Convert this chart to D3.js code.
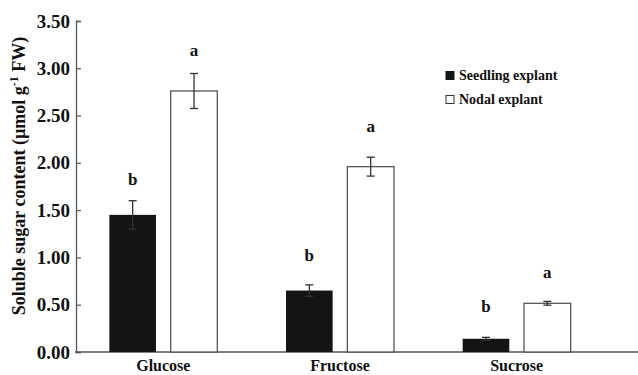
<!DOCTYPE html>
<html>
<head>
<meta charset="utf-8">
<script src="https://cdn.jsdelivr.net/npm/d3@7"></script>
<style>
  body { margin: 0; background: #fff; }
  text { font-family: "Liberation Serif", "Times New Roman", serif; font-weight: bold; fill: #111; }
</style>
</head>
<body>
<div id="chart"></div>
<script>
// sugars and explant types
let categories = ["Glucose", "Fructose", "Sucrose"];
let seriesNames = ["Seedling explant", "Nodal explant"];

// mean content
let seedling = [1.45, 0.65, 0.14];
let nodal = [2.76, 1.96, 0.515];
// standard error
let seedlingErr = [0.15, 0.06, 0.015];
let nodalErr = [0.185, 0.10, 0.02];
// significance letters and the height (data units) they sit at
let seedlingLetters = ["b", "b", "b"];
let nodalLetters = ["a", "a", "a"];
let seedlingLetterAt = [1.77, 0.96, 0.42];
let nodalLetterAt = [3.13, 2.33, 0.78];

let yTicks = [0, 0.5, 1, 1.5, 2, 2.5, 3, 3.5];

let width = 638, height = 375;

let svg = d3.select("#chart").append("svg")
    .attr("width", width)
    .attr("height", height);

// scales
let x0 = d3.scaleBand().domain(categories).range([75, 605]);
let x1 = d3.scaleBand().domain(seriesNames)
    .range([0, x0.bandwidth()])
    .paddingInner(0.24)
    .paddingOuter(0.56);
let y = d3.scaleLinear().domain([0, 3.5]).range([352, 21]);

// y axis
let yAxis = svg.append("g")
    .attr("transform", "translate(76,0)")
    .call(d3.axisLeft(y).tickValues(yTicks).tickFormat(d3.format(".2f")).tickSize(-5).tickPadding(6));
yAxis.select(".domain").attr("stroke", "#555").attr("stroke-width", 1.3);
yAxis.selectAll(".tick line").attr("stroke", "#555").attr("stroke-width", 1.2);
yAxis.selectAll(".tick text")
    .attr("font-family", "Liberation Serif")
    .attr("font-size", 19)
    .attr("font-weight", "bold")
    .attr("fill", "#111");

// x axis line with category names
let xAxis = svg.append("g")
    .attr("transform", "translate(0,352)")
    .call(d3.axisBottom(x0).tickSize(0).tickPadding(8));
xAxis.select(".domain").attr("d", "M75,0H638").attr("stroke", "#555").attr("stroke-width", 1.3);
xAxis.selectAll(".tick text")
    .attr("font-family", "Liberation Serif")
    .attr("font-size", 16)
    .attr("font-weight", "bold")
    .attr("fill", "#111");

// build rows for drawing
let rows = [];
categories.forEach(function(c, i) {
    rows.push({cat: c, s: seriesNames[0], v: seedling[i], e: seedlingErr[i], l: seedlingLetters[i], la: seedlingLetterAt[i]});
    rows.push({cat: c, s: seriesNames[1], v: nodal[i], e: nodalErr[i], l: nodalLetters[i], la: nodalLetterAt[i]});
});
let bx = function(d) { return x0(d.cat) + x1(d.s); };
let cx = function(d) { return bx(d) + x1.bandwidth() / 2; };

// bars
svg.append("g").selectAll("rect")
    .data(rows)
    .enter().append("rect")
    .attr("x", bx)
    .attr("y", function(d) { return y(d.v); })
    .attr("width", x1.bandwidth())
    .attr("height", function(d) { return y(0) - y(d.v); })
    .attr("fill", function(d) { return d.s === seriesNames[0] ? "#141414" : "#fff"; })
    .attr("stroke", function(d) { return d.s === seriesNames[0] ? "none" : "#555"; })
    .attr("stroke-width", 1.3);

// error bars
let err = svg.append("g").selectAll("g")
    .data(rows)
    .enter().append("g")
    .attr("stroke", "#333")
    .attr("stroke-width", 1.3);
err.append("line")
    .attr("x1", cx).attr("x2", cx)
    .attr("y1", function(d) { return y(d.v + d.e); })
    .attr("y2", function(d) { return y(d.v - d.e); });
err.append("line")
    .attr("x1", function(d) { return cx(d) - 4; })
    .attr("x2", function(d) { return cx(d) + 4; })
    .attr("y1", function(d) { return y(d.v + d.e); })
    .attr("y2", function(d) { return y(d.v + d.e); });
err.append("line")
    .attr("x1", function(d) { return cx(d) - 4; })
    .attr("x2", function(d) { return cx(d) + 4; })
    .attr("y1", function(d) { return y(d.v - d.e); })
    .attr("y2", function(d) { return y(d.v - d.e); });

// letters
svg.append("g").selectAll("text")
    .data(rows)
    .enter().append("text")
    .attr("x", cx)
    .attr("y", function(d) { return y(d.la); })
    .attr("text-anchor", "middle")
    .attr("font-size", 17)
    .text(function(d) { return d.l; });

// y axis title
let title = svg.append("text")
    .attr("transform", "translate(25,176) rotate(-90)")
    .attr("text-anchor", "middle")
    .attr("font-size", 18);
title.append("tspan").text("Soluble sugar content (\u00b5mol g");
title.append("tspan").attr("dy", -7).attr("font-size", 12).text("-1");
title.append("tspan").attr("dy", 7).text(" FW)");

// legend
let legend = svg.append("g").selectAll("g")
    .data(seriesNames)
    .enter().append("g")
    .attr("transform", function(d, i) { return "translate(446," + (71.5 + i * 24) + ")"; });
legend.append("rect")
    .attr("width", 8).attr("height", 8)
    .attr("fill", function(d, i) { return i === 0 ? "#141414" : "#fff"; })
    .attr("stroke", function(d, i) { return i === 0 ? "#141414" : "#333"; })
    .attr("stroke-width", 1);
legend.append("text")
    .attr("x", 13)
    .attr("y", 8)
    .attr("font-size", 14)
    .text(function(d) { return d; });
</script>
</body>
</html>
